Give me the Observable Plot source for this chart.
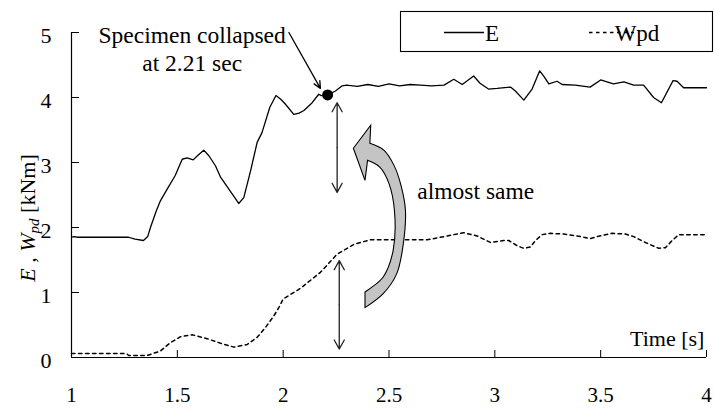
<!DOCTYPE html>
<html>
<head>
<meta charset="utf-8">
<script src="https://cdn.jsdelivr.net/npm/d3@7"></script>
<script src="https://cdn.jsdelivr.net/npm/@observablehq/plot@0.6"></script>
<style>
  html, body { margin: 0; padding: 0; background: white; }
</style>
</head>
<body>
<div id="chart"></div>
<script>
// ---- data ----
const eTime = [1.00,1.01,1.03,1.27,1.30,1.34,1.36,1.373,1.40,1.42,1.452,1.49,1.523,1.546,1.575,1.60,1.625,1.65,1.68,1.705,1.75,1.79,1.814,1.846,1.877,1.90,1.937,1.966,1.99,2.01,2.05,2.075,2.098,2.137,2.168,2.18,2.21,2.247,2.279,2.30,2.35,2.40,2.45,2.50,2.55,2.60,2.65,2.70,2.76,2.806,2.846,2.90,2.93,2.97,3.011,3.074,3.097,3.137,3.176,3.212,3.231,3.255,3.294,3.318,3.38,3.45,3.50,3.56,3.61,3.656,3.703,3.75,3.787,3.842,3.861,3.892,4.00];
const eValue = [1.85,1.86,1.85,1.85,1.82,1.80,1.86,2.00,2.25,2.41,2.59,2.80,3.05,3.07,3.04,3.12,3.19,3.10,2.95,2.77,2.56,2.37,2.46,2.87,3.31,3.46,3.85,4.03,3.97,3.90,3.74,3.76,3.80,3.92,4.05,4.03,4.04,4.10,4.18,4.19,4.17,4.20,4.17,4.21,4.18,4.20,4.19,4.18,4.19,4.28,4.20,4.33,4.22,4.13,4.14,4.16,4.10,3.96,4.13,4.41,4.33,4.21,4.25,4.20,4.19,4.16,4.27,4.21,4.24,4.19,4.19,4.00,3.92,4.26,4.25,4.15,4.15];

const wTime = [1.00,1.26,1.27,1.357,1.42,1.468,1.515,1.57,1.64,1.704,1.767,1.83,1.877,1.916,1.956,1.98,2.00,2.08,2.176,2.255,2.334,2.41,2.68,2.775,2.853,2.916,2.979,3.042,3.066,3.105,3.137,3.168,3.192,3.223,3.263,3.325,3.389,3.452,3.483,3.554,3.617,3.656,3.711,3.774,3.806,3.838,3.869,4.00];
const wValue = [0.06,0.06,0.03,0.03,0.10,0.23,0.32,0.35,0.29,0.22,0.16,0.20,0.31,0.46,0.64,0.77,0.90,1.06,1.31,1.59,1.74,1.81,1.81,1.87,1.92,1.87,1.77,1.80,1.80,1.72,1.68,1.70,1.80,1.89,1.91,1.90,1.87,1.83,1.86,1.91,1.90,1.86,1.77,1.68,1.69,1.80,1.89,1.89];

const xTicks = [1, 1.5, 2, 2.5, 3, 3.5, 4];
const yTicks = [0, 1, 2, 3, 4, 5];

const seriesNames = ["E", "Wpd"];
const collapse = {t: 2.21, v: 4.04, label1: "Specimen collapsed", label2: "at 2.21 sec"};
const noteText = "almost same";
const xTitle = "Time [s]";

// annotation geometry in data units (time, kNm)
const pointer = [{x1: 2.027, y1: 5.0, x2: 2.176, y2: 4.14}];
const doubleArrows = [
  {x: 2.255, top: 3.92, bottom: 2.54},
  {x: 2.265, top: 1.49, bottom: 0.13}
];
const bigArrowOuter = [[2.389,0.760],[2.475,0.975],[2.539,1.283],[2.570,1.745],[2.580,2.257],[2.559,2.642],[2.526,2.948],[2.479,3.180],[2.412,3.288]];
const bigArrowHead = [[2.416,3.565],[2.334,3.211],[2.389,2.718]];
const bigArrowInner = [[2.401,3.026],[2.460,2.918],[2.502,2.672],[2.528,2.257],[2.522,1.642],[2.475,1.231],[2.412,1.052],[2.389,1.000]];

// ---- tables ----
const eData = eTime.map((t, i) => ({t, v: eValue[i]}));
const wData = wTime.map((t, i) => ({t, v: wValue[i]}));
const arrowSegs = doubleArrows.flatMap(a => {
  const mid = (a.top + a.bottom) / 2;
  return [{x: a.x, y1: mid, y2: a.top}, {x: a.x, y1: mid, y2: a.bottom}];
});

const FONT = "Liberation Serif";
const fmt = d => String(d);

const chart = Plot.plot({
  width: 714,
  height: 408,
  marginLeft: 71,
  marginRight: 8,
  marginTop: 32,
  marginBottom: 51,
  x: {domain: [1, 4], label: null},
  y: {domain: [0, 5], label: null},
  style: {fontFamily: FONT, fontSize: "22px", background: "white", color: "black"},
  marks: [
    // axis lines
    Plot.ruleY([0], {stroke: "black", strokeWidth: 1.2}),
    Plot.ruleX([1], {stroke: "black", strokeWidth: 1.2}),
    // inward ticks
    Plot.axisX(xTicks, {tickSize: 7, dy: -7, tickFormat: () => "", label: null, stroke: "black"}),
    Plot.axisY(yTicks, {tickSize: 8, dx: 8, tickFormat: () => "", label: null, stroke: "black"}),
    // tick labels
    Plot.axisX(xTicks, {tickSize: 0, tickPadding: 30, tickFormat: fmt, label: null, fontSize: 21, fontFamily: FONT, fontVariant: "normal", fill: "black"}),
    Plot.axisY(yTicks, {tickSize: 0, tickPadding: 20, dy: 3, tickFormat: fmt, label: null, fontSize: 22, fontFamily: FONT, fontVariant: "normal", fill: "black"}),
    // series
    Plot.line(wData, {x: "t", y: "v", stroke: "black", strokeWidth: 1.5, strokeDasharray: "3.5,3.5"}),
    Plot.line(eData, {x: "t", y: "v", stroke: "black", strokeWidth: 1.3}),
    // annotations
    Plot.dot([collapse], {x: "t", y: "v", r: 5.5, fill: "black"}),
    Plot.arrow(pointer, {x1: "x1", y1: "y1", x2: "x2", y2: "y2", stroke: "black", strokeWidth: 1.3, headLength: 9, headAngle: 50}),
    Plot.arrow(arrowSegs, {x1: "x", x2: "x", y1: "y1", y2: "y2", stroke: "#222", strokeWidth: 1.3, headLength: 12, headAngle: 58}),
    Plot.text([collapse], {x: () => 1.57, y: () => 4.955, text: "label1", fontSize: 23.5, fontFamily: FONT, fill: "black", lineAnchor: "middle"}),
    Plot.text([collapse], {x: () => 1.57, y: () => 4.52, text: "label2", fontSize: 23.5, fontFamily: FONT, fill: "black", lineAnchor: "middle"}),
    Plot.text([noteText], {x: () => 2.634, y: () => 2.56, text: d => d, fontSize: 23.5, fontFamily: FONT, fill: "black", textAnchor: "start", lineAnchor: "middle"}),
    Plot.text([xTitle], {x: () => 3.99, y: () => 0.29, text: d => d, fontSize: 22, fontFamily: FONT, fill: "black", textAnchor: "end", lineAnchor: "middle"})
  ]
});

document.getElementById("chart").appendChild(chart);

// ---- extra drawing through the chart's scales ----
const svg = d3.select(chart);
const xs = chart.scale("x"), ys = chart.scale("y");
const P = d => [xs.apply(d[0]), ys.apply(d[1])];
const smooth = d3.line().curve(d3.curveCatmullRom);
const outerPath = smooth(bigArrowOuter.map(P));
const headPath = bigArrowHead.map(P).map(p => `L${p[0]},${p[1]}`).join("");
const innerPath = smooth(bigArrowInner.map(P)).replace(/^M/, "L");
svg.append("path")
  .attr("d", outerPath + headPath + innerPath + "Z")
  .attr("fill", "#c4c4c4")
  .attr("stroke", "black")
  .attr("stroke-width", 1.1)
  .attr("stroke-linejoin", "miter");

// y-axis title with italic / subscript parts
const yt = svg.append("text")
  .attr("transform", "translate(35,218) rotate(-90)")
  .attr("text-anchor", "middle")
  .attr("font-family", FONT)
  .attr("font-size", 22)
  .attr("fill", "black");
yt.append("tspan").attr("font-style", "italic").text("E");
yt.append("tspan").text(" , ");
yt.append("tspan").attr("font-style", "italic").text("W");
yt.append("tspan").attr("font-style", "italic").attr("font-size", 15).attr("dy", 4).text("pd");
yt.append("tspan").attr("dy", -4).text(" [kNm]");

// legend box
const lg = svg.append("g").attr("font-family", FONT).attr("font-size", 23);
lg.append("rect").attr("x", 400.5).attr("y", 11.5).attr("width", 312).attr("height", 40)
  .attr("fill", "white").attr("stroke", "black").attr("stroke-width", 1.1);
lg.append("line").attr("x1", 444).attr("x2", 484).attr("y1", 32.5).attr("y2", 32.5)
  .attr("stroke", "black").attr("stroke-width", 1.3);
lg.append("text").attr("x", 492).attr("y", 41).text(seriesNames[0]);
lg.append("line").attr("x1", 589).attr("x2", 634).attr("y1", 32.5).attr("y2", 32.5)
  .attr("stroke", "black").attr("stroke-width", 1.5).attr("stroke-dasharray", "3.5,3.5");
lg.append("text").attr("x", 637).attr("y", 41).text(seriesNames[1]);
</script>
</body>
</html>
